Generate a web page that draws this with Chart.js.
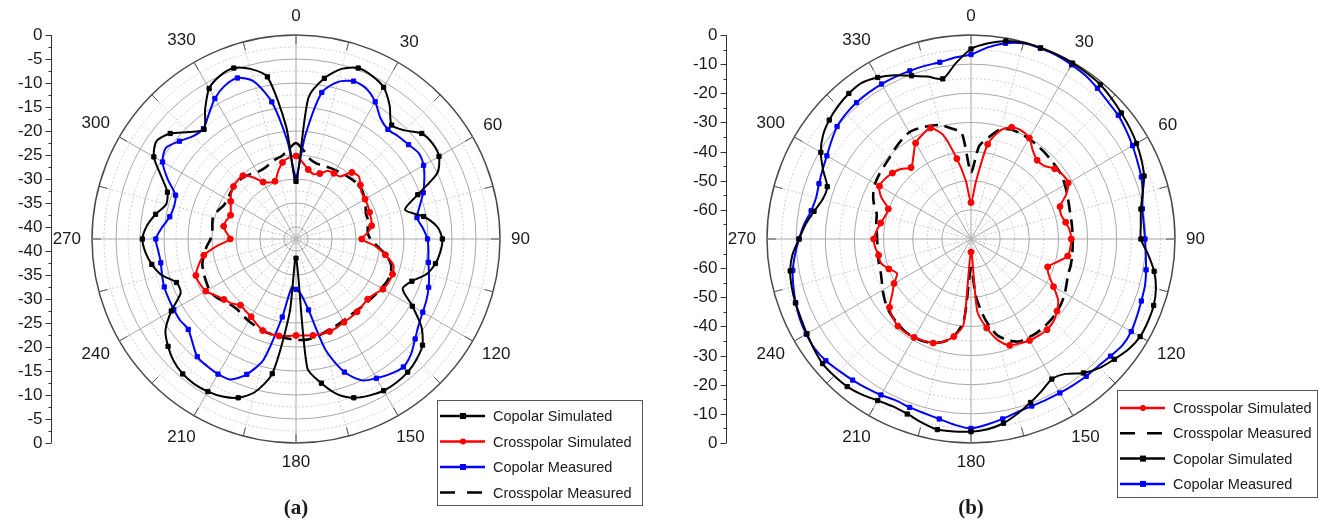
<!DOCTYPE html>
<html>
<head>
<meta charset="utf-8">
<script src="https://cdn.jsdelivr.net/npm/chart.js@4.4.1/dist/chart.umd.min.js"></script>
<style>
html, body { margin: 0; padding: 0; background: #fff; }
#wrap { position: relative; width: 1324px; height: 525px; }
#wrap canvas { position: absolute; left: 0; top: 0; }
</style>
</head>
<body>
<div id="wrap">
  <canvas id="chartA" width="1324" height="525"></canvas>
  <canvas id="chartB" width="1324" height="525"></canvas>
</div>
<script>
// angle (deg), clockwise from top
var angles = [0,5,10,15,20,25,30,35,40,45,50,55,
  60,65,70,75,80,85,90,95,100,105,110,115,
  120,125,130,135,140,145,150,155,160,165,170,175,
  180,185,190,195,200,205,210,215,220,225,230,235,
  240,245,250,255,260,265,270,275,280,285,290,295,
  300,305,310,315,320,325,330,335,340,345,350,355];

// (a) values in dB
var aCopolarSim = [-30.5,-13,-8.5,-5.8,-4.6,-5,-6,-8.5,-11.5,-10.5,-8.3,-7.8,
  -8.1,-10,-15.5,-19,-15.5,-13,-12,-12.3,-13,-14.3,-16.8,-18,
  -14.5,-10.6,-8.1,-7,-6.3,-6,-6,-6.5,-7.3,-9,-12,-15.5,
  -38.5,-27,-14,-9.5,-7.3,-6.3,-5.8,-5.6,-5.8,-6.5,-7.7,-9.3,
  -12.5,-16,-16,-13.5,-12,-11,-10.5,-11.3,-12.8,-14.5,-14,-11.5,
  -8.3,-7,-8.3,-11,-12.7,-9.5,-6.3,-5,-4.6,-5.8,-8.2,-19];
var aCrossSim = [-25.2,-26.5,-27.8,-28.5,-28,-26.8,-26.7,-26.6,-24.4,-24,-25,-25.8,
  -25.9,-26,-26.2,-26.3,-26.5,-27.5,-28.8,-26,-23.6,-21.5,-21.1,-21.2,
  -21.6,-22.5,-23,-22.9,-22.7,-22.6,-22.5,-22.2,-22,-22,-22.1,-22.3,
  -22.4,-22.2,-22,-22,-22.2,-23,-23.8,-24.2,-24.5,-23.5,-22.9,-22,
  -20.8,-20.4,-20.3,-21.5,-23,-26,-28.8,-28,-27.2,-27.5,-28,-27.5,
  -26.8,-26,-25.5,-25.3,-25.3,-26.8,-28.8,-29.5,-29.7,-28,-26.3,-25.5];
var aCopolarMeas = [-29.5,-21,-11.5,-8.6,-7.5,-7.9,-9.5,-11.8,-12.7,-12.3,-11.9,-11.3,
  -11.8,-13,-14.3,-15.8,-16.9,-16,-15.1,-14.8,-14.5,-13.8,-13.1,-12.5,
  -12,-11.3,-10.1,-8.6,-7.7,-8.2,-9,-10,-13,-18.5,-27.5,-31,
  -32,-32.4,-26,-16.5,-12.5,-10.2,-10,-10.2,-10.5,-12,-13.2,-13,
  -13.1,-13.2,-13.3,-13.6,-13.9,-13.7,-13.3,-14.5,-15.8,-16.2,-15.8,-13,
  -10.4,-9.4,-10.8,-12.2,-12.5,-10.8,-8.7,-7.3,-6.8,-8.5,-13.5,-22];
var aCrossMeas = [-22.5,-24,-25.6,-26.2,-26.2,-26.1,-26,-25.8,-25.6,-25.4,-25.3,-25.5,
  -26,-26.5,-27,-27,-27.3,-27.5,-27,-25.5,-23.5,-22,-21.5,-21.6,
  -22,-22.3,-22.6,-22.8,-23,-23,-22.8,-22.6,-22.4,-22,-21.6,-21.4,
  -21.5,-21.7,-21.9,-22,-22.2,-22.5,-22.8,-23.1,-23.4,-23.2,-22.5,-21.8,
  -21.6,-21.8,-22,-22.3,-23,-23.8,-24.7,-25,-24.8,-24.6,-25.2,-25.9,
  -26,-25.8,-25.6,-25.5,-25.6,-26,-26.4,-26.4,-26,-25.4,-25,-23.8];

// (b) values in dB
var bCrossSim = [-57.5,-50,-37,-31.5,-29.2,-29,-30,-33,-34.7,-34.5,-32.5,-31.6,
  -31.5,-34,-37.5,-38,-37,-36,-35.6,-35.8,-36.3,-39.5,-42,-40.5,
  -37.3,-33.5,-31.5,-30,-29.4,-29.5,-29.8,-30.5,-31.2,-34,-39,-45,
  -65.5,-40.5,-36,-33.5,-32,-31.5,-31,-30.8,-31,-32,-33.5,-37,
  -39.5,-42,-40,-38,-37.8,-37,-36.6,-37.5,-38.5,-39.5,-39.8,-36,
  -33.7,-34,-34.8,-36,-38,-35.5,-32,-30.5,-29.5,-33,-42,-50];
var bCrossMeas = [-47,-38,-34.5,-31,-30,-30,-30.3,-30.6,-31,-31.4,-31.7,-32,
  -32.8,-33.6,-34.3,-34.8,-35,-35.1,-35.1,-35,-34.8,-34.6,-34.5,-33.8,
  -32.8,-32,-31.4,-31,-30.8,-30.7,-30.9,-31.2,-33,-36,-42,-50,
  -60,-42,-36,-33.5,-32,-31.3,-31,-31,-31.5,-32,-32.7,-33.8,
  -35,-36.2,-37,-37.3,-37.6,-37.8,-37.8,-37.5,-37,-36.5,-34.5,-33,
  -32,-31.5,-31.1,-30.5,-29.5,-28.5,-27.7,-28,-28.7,-29.5,-31.5,-33.5];
var bCopolarSim = [-4.8,-2.6,-1,-0.3,-0.2,-0.2,-0.3,-0.6,-0.9,-1.8,-2.7,-3.5,
  -4.4,-5.5,-6.8,-9,-10.8,-11.5,-11.7,-9,-6.2,-4.3,-3.3,-3,
  -3,-4,-5.8,-7.5,-10,-13.5,-14.5,-12.5,-10.3,-8,-5.8,-4.5,
  -3.9,-3.7,-3.6,-4.8,-6.1,-6.6,-6,-4.8,-3.9,-3.6,-3.5,-4.2,
  -5,-5.6,-5.9,-6.3,-7,-8.5,-11,-13,-15.3,-17.3,-17.5,-14,
  -10.5,-8,-6.5,-5.5,-4.8,-4.6,-6,-8,-10.4,-12.3,-14.2,-9.5];
var bCopolarMeas = [-6.7,-4,-1.8,-0.5,-0.4,-0.5,-1,-1.5,-2.5,-3.5,-4,-5,
  -6,-7,-7.8,-9,-10.3,-10.5,-10.3,-9.8,-9,-8.2,-7.8,-7.2,
  -6.5,-6.5,-7.5,-8.3,-8.5,-8.8,-9,-9.1,-9,-8.5,-7.3,-6.1,
  -5,-6,-7.3,-8.1,-8.5,-8.9,-8.2,-7.5,-6.8,-6,-5,-4.5,
  -4.7,-5.2,-6,-6.9,-7.9,-9.4,-11,-12.5,-14.3,-15,-14.5,-13.8,
  -12.9,-11.5,-10,-9.3,-8.9,-8.7,-8.6,-8.6,-8.6,-8.5,-8.4,-7.5];

// radial axis ticks
var aMajorTicks = [0,-5,-10,-15,-20,-25,-30,-35,-40];
var aMinorTicks = [-2.5,-7.5,-12.5,-17.5,-22.5,-27.5,-32.5,-37.5];
var bMajorTicks = [0,-10,-20,-30,-40,-50,-60];
var bMinorTicks = [-5,-15,-25,-35,-45,-55,-65];

var FONT = '"Liberation Sans", Arial, sans-serif';

var polarDecor = {
  id: 'polarDecor',
  beforeDatasetsDraw: function(chart) {
    var s = chart.scales.r, ctx = chart.ctx;
    ctx.save();
    ctx.strokeStyle = '#555';
    ctx.lineWidth = 1;
    for (var i = 0; i < angles.length; i++) {
      if (angles[i] % 15 !== 0) continue;
      var p1 = s.getPointPosition(i, s.drawingArea);
      var p2 = s.getPointPosition(i, s.drawingArea - 9);
      ctx.beginPath();
      ctx.moveTo(p1.x, p1.y);
      ctx.lineTo(p2.x, p2.y);
      ctx.stroke();
    }
    ctx.restore();
  },
  afterDraw: function(chart, args, opts) {
    var s = chart.scales.r, ctx = chart.ctx;
    ctx.save();
    ctx.fillStyle = '#1a1a1a';
    ctx.font = '17px ' + FONT;
    ctx.textAlign = 'center';
    ctx.textBaseline = 'middle';

    // angle labels
    angles.forEach(function(a, i) {
      if (a % 30 !== 0) return;
      var txt = String(a);
      var w = ctx.measureText(txt).width;
      var rad = a * Math.PI / 180;
      var d = s.drawingArea + 11 + w / 2 * Math.abs(Math.sin(rad)) + 8 * Math.abs(Math.cos(rad));
      var p = s.getPointPosition(i, d);
      ctx.fillText(txt, p.x, p.y);
    });

    // vertical radial axis at the left
    var ax = Math.round(s.xCenter - s.drawingArea - 41) + 0.5;
    ctx.strokeStyle = '#333';
    ctx.lineWidth = 1;
    ctx.beginPath();
    ctx.moveTo(ax, s.yCenter - s.drawingArea);
    ctx.lineTo(ax, s.yCenter + s.drawingArea);
    ctx.stroke();
    opts.minor.forEach(function(v) {
      var d = s.getDistanceFromCenterForValue(v);
      [-1, 1].forEach(function(sg) {
        var y = Math.round(s.yCenter + sg * d) + 0.5;
        ctx.beginPath(); ctx.moveTo(ax - 3, y); ctx.lineTo(ax, y); ctx.stroke();
      });
    });
    ctx.textAlign = 'right';
    opts.major.forEach(function(v) {
      var d = s.getDistanceFromCenterForValue(v);
      [-1, 1].forEach(function(sg) {
        var y = Math.round(s.yCenter + sg * d) + 0.5;
        ctx.beginPath(); ctx.moveTo(ax - 6, y); ctx.lineTo(ax, y); ctx.stroke();
        ctx.fillText(String(v), ax - 9, y);
      });
    });

    // legend box
    var L = opts.legend;
    ctx.strokeStyle = '#555';
    ctx.lineWidth = 1;
    ctx.strokeRect(L.x + 0.5, L.y + 0.5, L.w, L.h);
    ctx.font = '14.5px ' + FONT;
    ctx.textAlign = 'left';
    chart.data.datasets.forEach(function(ds, k) {
      var y = L.y + L.first + k * L.step;
      ctx.strokeStyle = ds.borderColor;
      ctx.lineWidth = 2.5;
      ctx.setLineDash(ds.borderDash ? [15, 12] : []);
      ctx.beginPath();
      ctx.moveTo(L.x + 3, y);
      ctx.lineTo(L.x + 48, y);
      ctx.stroke();
      ctx.setLineDash([]);
      ctx.fillStyle = ds.borderColor;
      if (ds.pointStyle === 'rect') {
        ctx.fillRect(L.x + 23, y - 3, 6, 6);
      } else if (ds.pointStyle === 'circle') {
        ctx.beginPath(); ctx.arc(L.x + 26, y, 3, 0, Math.PI * 2); ctx.fill();
      }
      ctx.fillStyle = '#1a1a1a';
      ctx.fillText(ds.label, L.x + 56, y + 1);
    });

    // caption
    ctx.font = 'bold 21px "Liberation Serif", "Times New Roman", serif';
    ctx.textAlign = 'center';
    ctx.fillText(opts.caption, s.xCenter, 509);
    ctx.restore();
  }
};

function series(label, data, color, kind) {
  var d = {
    label: label,
    data: data,
    borderColor: color,
    backgroundColor: color,
    borderWidth: 2,
    fill: false,
    tension: 0.25,
    pointStyle: kind,
    pointBackgroundColor: color,
    pointBorderColor: color,
    pointBorderWidth: 1,
    pointRadius: function(c) { return c.index % 2 === 0 ? 3 : 0; }
  };
  if (kind === false) {
    d.borderDash = [13, 7];
    d.borderWidth = 2.6;
    d.pointRadius = 0;
    d.pointStyle = false;
  }
  return d;
}

function makeChart(id, datasets, rMin, step, majorEvery, padding, decor) {
  function isMajor(v) { return Math.abs(v % majorEvery) < 1e-6; }
  return new Chart(document.getElementById(id), {
    type: 'radar',
    data: { labels: angles, datasets: datasets },
    options: {
      responsive: false,
      animation: false,
      events: [],
      layout: { padding: padding },
      plugins: { legend: { display: false }, tooltip: { enabled: false }, polarDecor: decor },
      scales: {
        r: {
          min: rMin,
          max: 0,
          ticks: { stepSize: step, display: false },
          pointLabels: { display: false },
          grid: {
            circular: true,
            color: function(c) {
              var v = c.tick.value;
              if (v === 0) return '#4a4a4a';
              if (v <= rMin) return 'rgba(0,0,0,0)';
              return isMajor(v) ? '#a8a8a8' : '#cccccc';
            },
            lineWidth: function(c) { return c.tick.value === 0 ? 1.5 : 1; }
          },
          border: {
            dash: function(c) { return isMajor(c.tick.value) ? [] : [2, 2]; }
          },
          angleLines: {
            color: function(c) {
              var a = angles[c.index];
              if (a % 30 === 0) return '#a8a8a8';
              if (a % 15 === 0) return '#cccccc';
              return 'rgba(0,0,0,0)';
            },
            lineWidth: function(c) { return angles[c.index] % 15 === 0 ? 1 : 0; },
            borderDash: function(c) { return angles[c.index] % 30 === 0 ? [] : [2, 2]; }
          }
        }
      }
    },
    plugins: [polarDecor]
  });
}

makeChart('chartA', [
  series('Copolar Simulated', aCopolarSim, '#000000', 'rect'),
  series('Crosspolar Simulated', aCrossSim, '#ff0000', 'circle'),
  series('Copolar Measured', aCopolarMeas, '#0000ff', 'rect'),
  series('Crosspolar Measured', aCrossMeas, '#000000', false)
], -42.5, 2.5, 5, { left: 92, right: 824, top: 35, bottom: 82 },
  { major: aMajorTicks, minor: aMinorTicks, caption: '(a)',
    legend: { x: 437, y: 400, w: 205, h: 105, first: 16, step: 25.5 } });

makeChart('chartB', [
  series('Crosspolar Simulated', bCrossSim, '#ff0000', 'circle'),
  series('Crosspolar Measured', bCrossMeas, '#000000', false),
  series('Copolar Simulated', bCopolarSim, '#000000', 'rect'),
  series('Copolar Measured', bCopolarMeas, '#0000ff', 'rect')
], -70, 5, 10, { left: 767, right: 149, top: 35, bottom: 82 },
  { major: bMajorTicks, minor: bMinorTicks, caption: '(b)',
    legend: { x: 1117, y: 390, w: 200, h: 107, first: 18, step: 25.3 } });
</script>
</body>
</html>
